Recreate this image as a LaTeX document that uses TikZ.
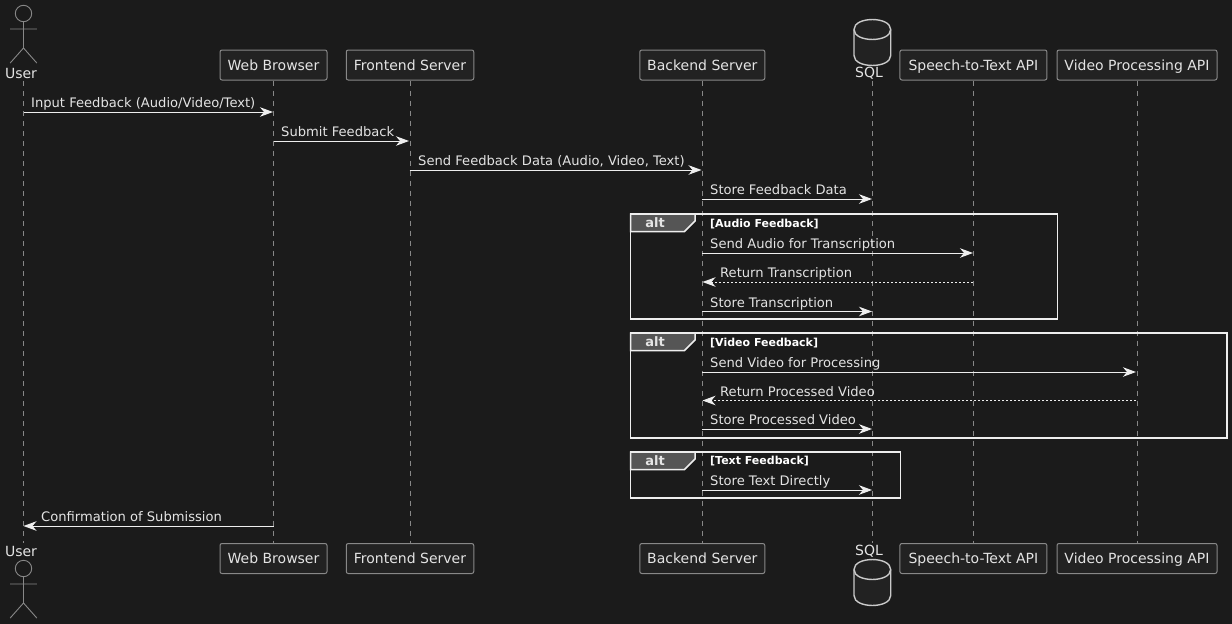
\documentclass[tikz,border=0pt]{standalone}
\usepackage{fontspec}
\setmainfont{DejaVu Sans}
\usetikzlibrary{arrows.meta,calc}
\definecolor{bgc}{HTML}{1B1B1B}
\definecolor{boxc}{HTML}{222222}
\definecolor{edgec}{HTML}{888888}
\definecolor{textc}{HTML}{E4E4E4}
\definecolor{linec}{HTML}{EEEEEE}
\definecolor{tabc}{HTML}{555555}
\tikzset{
  x=1pt,y=-1pt,
  part/.style={draw=edgec,fill=boxc,line width=1pt,rounded corners=2pt,text=textc,font=\fontsize{14}{16}\selectfont,minimum height=30pt,inner sep=0pt,anchor=center,text height=10pt,text depth=0pt},
  actorlabel/.style={text=textc,font=\fontsize{14}{16}\selectfont,inner sep=0pt,anchor=center},
  lifeline/.style={draw=edgec,line width=1pt,dash pattern=on 5pt off 5pt},
  stickman/.style={draw=edgec,line width=.9pt},
  dbshape/.style={draw=linec!85!black,fill=boxc,line width=1.4pt},
  msg/.style={draw=linec,line width=1pt,-{Stealth[length=13pt,width=9.5pt,inset=4pt,fill=linec]}},
  retmsg/.style={draw=linec,line width=.8pt,dash pattern=on 2pt off 2pt,-{Stealth[length=13pt,width=9.5pt,inset=4pt,fill=linec,line width=1pt]}},
  msgtext/.style={text=textc,font=\fontsize{13.1}{15}\selectfont,inner sep=0pt,anchor=base west},
  frameline/.style={draw=linec,line width=1.5pt},
  tabshape/.style={draw=linec,fill=tabc,line width=1.5pt},
  alttext/.style={text=textc,font=\fontsize{13}{15}\selectfont\bfseries,inner sep=0pt,anchor=base},
  condtext/.style={text=white,font=\fontsize{11}{13}\selectfont\bfseries,inner sep=0pt,anchor=base west},
}
\newcommand{\stickfigure}[2]{% x, head centre y
  \draw[stickman] (#1,#2) circle (8.2);
  \draw[stickman] (#1,#2+8.2) -- (#1,#2+34.5) (#1-13.3,#2+15.5) -- (#1+13.3,#2+15.5)
    (#1-13.3,#2+49.5) -- (#1,#2+34.5) -- (#1+13.3,#2+49.5);
}
\newcommand{\dbfigure}[1]{% top y
  \draw[dbshape] (854,#1+10) .. controls (854,#1-3.3) and (890.7,#1-3.3) .. (890.7,#1+10)
    -- (890.7,#1+36) .. controls (890.7,#1+49.3) and (854,#1+49.3) .. (854,#1+36) -- cycle;
  \draw[dbshape,fill=none] (854,#1+10) .. controls (854,#1+23.3) and (890.7,#1+23.3) .. (890.7,#1+10);
}
\newcommand{\altframe}[6]{% name, top, right, bottom, condition, condition baseline offset
  \coordinate (#1tl) at (630.5,#2);
  \coordinate (#1br) at (#3,#4);
  \draw[frameline] (#1tl) rectangle (#1br);
  \draw[tabshape] (630.5,#2) -- (695,#2) -- (695,#2+7) -- (684.5,#2+17.5) -- (630.5,#2+17.5) -- cycle;
  \node[alttext] (#1alt) at (655,#2+13.5) {alt};
  \node[condtext] (#1cond) at (710,#2+#6) {#5};
}
\newcommand{\seqmsg}[6]{% name, from x, to x, y, text x, text
  \coordinate (#1s) at (#2,#4);
  \coordinate (#1e) at (#3,#4);
  \node[msgtext] (#1t) at (#5,#4-4.1) {#6};
}
\begin{document}
\begin{tikzpicture}
\useasboundingbox[fill=bgc] (0,0) rectangle (1232,624);
% heads
\node[actorlabel] (userT) at (21,73) {User};
\node[actorlabel] (sqlT) at (869,73) {SQL};
\coordinate (userTl) at (23.5,81);
\coordinate (sqlTl) at (872.3,81);
\coordinate (userBl) at (23.5,543);
\coordinate (sqlBl) at (872.3,543);
\node[part,minimum width=107pt] (webT) at (273.5,65) {Web Browser};
\node[part,minimum width=127.5pt] (frontT) at (410,65) {Frontend Server};
\node[part,minimum width=125pt] (backT) at (702.3,65) {Backend Server};
\node[part,minimum width=147pt] (speechT) at (973.4,65) {Speech-to-Text API};
\node[part,minimum width=160pt] (videoT) at (1137,65) {Video Processing API};
\node[part,minimum width=107pt] (webB) at (273.5,558.5) {Web Browser};
\node[part,minimum width=127.5pt] (frontB) at (410,558.5) {Frontend Server};
\node[part,minimum width=125pt] (backB) at (702.3,558.5) {Backend Server};
\node[part,minimum width=147pt] (speechB) at (973.4,558.5) {Speech-to-Text API};
\node[part,minimum width=160pt] (videoB) at (1137,558.5) {Video Processing API};
% lifelines
\draw[lifeline] (userTl) -- (userBl);
\draw[lifeline] (sqlTl) -- (sqlBl);
\draw[lifeline] (webT.south) -- (webB.north);
\draw[lifeline] (frontT.south) -- (frontB.north);
\draw[lifeline] (backT.south) -- (backB.north);
\draw[lifeline] (speechT.south) -- (speechB.north);
\draw[lifeline] (videoT.south) -- (videoB.north);
\stickfigure{23.5}{13.5}
\stickfigure{23.5}{568.5}
\dbfigure{19.5}
\dbfigure{559.5}
\node[actorlabel] (userB) at (21,551) {User};
\node[actorlabel] (sqlB) at (869,551) {SQL};
% frames
\altframe{fa}{214}{1057.5}{319}{[Audio Feedback]}{13}
\altframe{fb}{333}{1227}{438}{[Video Feedback]}{13}
\altframe{fc}{452}{900.5}{498}{[Text Feedback]}{12}
% messages
\seqmsg{ma}{23.5}{273}{112}{31}{Input Feedback (Audio/Video/Text)}
\draw[msg] (mas) -- (mae);
\seqmsg{mb}{273.5}{409}{141}{281}{Submit Feedback}
\draw[msg] (mbs) -- (mbe);
\seqmsg{mc}{409.5}{701.5}{170}{418}{Send Feedback Data (Audio, Video, Text)}
\draw[msg] (mcs) -- (mce);
\seqmsg{md}{702}{872}{199}{710}{Store Feedback Data}
\draw[msg] (mds) -- (mde);
\seqmsg{me}{702}{973}{253}{710}{Send Audio for Transcription}
\draw[msg] (mes) -- (mee);
\seqmsg{mf}{973}{702.5}{282}{720}{Return Transcription}
\draw[retmsg] (mfs) -- (mfe);
\seqmsg{mg}{702}{872}{311.5}{710}{Store Transcription}
\draw[msg] (mgs) -- (mge);
\seqmsg{mh}{702}{1136}{372}{710}{Send Video for Processing}
\draw[msg] (mhs) -- (mhe);
\seqmsg{mi}{1136}{702.5}{400.5}{720}{Return Processed Video}
\draw[retmsg] (mis) -- (mie);
\seqmsg{mj}{702}{872}{429}{710}{Store Processed Video}
\draw[msg] (mjs) -- (mje);
\seqmsg{mk}{702}{872}{490}{710}{Store Text Directly}
\draw[msg] (mks) -- (mke);
\seqmsg{ml}{273.5}{23.5}{526}{41}{Confirmation of Submission}
\draw[msg] (mls) -- (mle);
\end{tikzpicture}
\end{document}
